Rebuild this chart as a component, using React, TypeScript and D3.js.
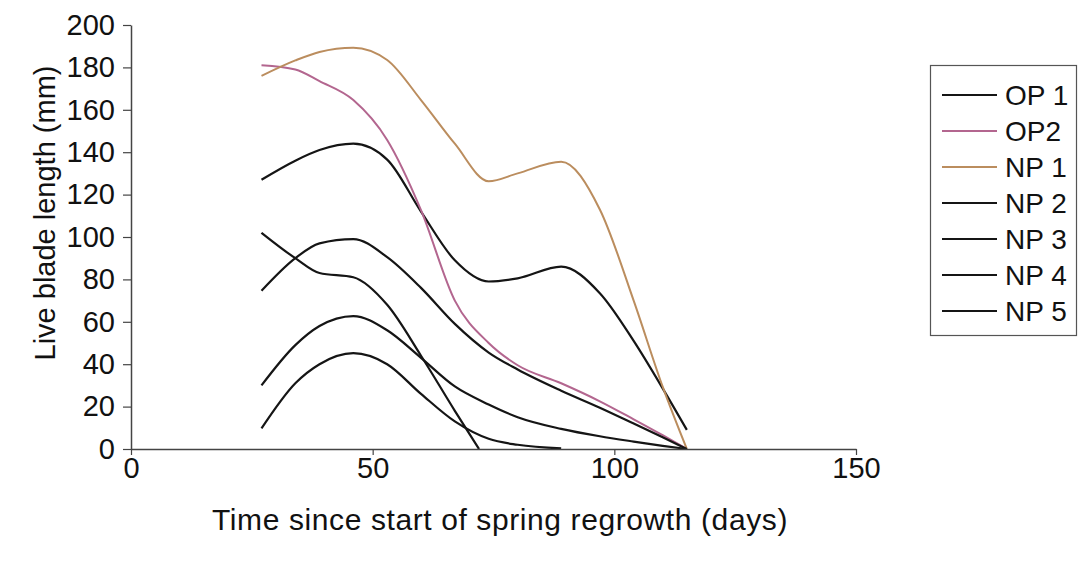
import { useEffect, useRef } from "react"
import * as d3 from "d3"

// series, in legend order
const seriesNames = ["OP 1", "OP2", "NP 1", "NP 2", "NP 3", "NP 4", "NP 5"]
const seriesColors = ["#151515", "#b3668f", "#bb8d5e", "#151515", "#151515", "#151515", "#151515"]

// sampling days
const days = [27, 34, 39, 46, 53, 60, 67, 74, 80, 89, 97, 104, 110, 115]
const steepDays = [27, 34, 39, 46, 53, 60, 67, 72]
const lowDays = [27, 34, 39, 46, 53, 60, 67, 74, 80, 89]

const op1 = [127, 136, 141, 144, 136.5, 112, 89, 79, 80.5, 86, 73.5, 51, 28.6, 9]
const op2 = [181, 179, 173.5, 164.6, 145.8, 112.7, 70, 50, 39.5, 31, 22.5, 14, 6.5, 0]
const np1 = [176, 183.3, 187.3, 189.3, 183.5, 164.6, 144, 126.3, 130, 135.5, 113, 70, 29.4, 0]
const np2 = [74.6, 90, 97, 99, 90.5, 76, 59, 45.5, 37.5, 27.5, 19.5, 12, 5.5, 0]
const np3 = [102, 90, 83, 81, 68, 44, 18, 0]
const np4 = [30, 49, 58, 62.7, 56, 43, 29.5, 21, 15, 9.5, 6, 3.5, 1.5, 0]
const np5 = [9.7, 31, 40, 45.2, 40, 26, 13, 4.8, 2, 0.3]

const seriesDays = [days, days, days, days, steepDays, days, lowDays]
const seriesValues = [op1, op2, np1, np2, np3, np4, np5]

const xTicks = [0, 50, 100, 150]
const yTicks = [0, 20, 40, 60, 80, 100, 120, 140, 160, 180, 200]

const W = 1081
const H = 565
const FONT = "'Liberation Sans', Arial, Helvetica, sans-serif"
const FS = 29

export default function App() {
  const xAxisRef = useRef<SVGGElement>(null)
  const yAxisRef = useRef<SVGGElement>(null)

  const x = d3.scaleLinear().domain([0, 150]).range([131, 856])
  const y = d3.scaleLinear().domain([0, 200]).range([449, 25])

  const line = d3
    .line<[number, number]>()
    .x((d) => x(d[0]))
    .y((d) => y(d[1]))
    .curve(d3.curveMonotoneX)

  useEffect(() => {
    if (!xAxisRef.current || !yAxisRef.current) return

    const gx = d3.select(xAxisRef.current)
    gx.selectAll("*").remove()
    gx.call(
      d3
        .axisBottom(x)
        .tickValues(xTicks)
        .tickSizeInner(6)
        .tickSizeOuter(0)
        .tickPadding(2)
        .tickFormat((d) => String(d)),
    )
    gx.select(".domain").attr("stroke", "#444").attr("stroke-width", 1.5)
    gx.selectAll(".tick line").attr("stroke", "#444").attr("stroke-width", 1.2)
    gx.selectAll("text").attr("font-size", FS).attr("font-family", FONT).attr("fill", "#111")

    const gy = d3.select(yAxisRef.current)
    gy.selectAll("*").remove()
    gy.call(
      d3
        .axisLeft(y)
        .tickValues(yTicks)
        .tickSizeInner(8)
        .tickSizeOuter(0)
        .tickPadding(8)
        .tickFormat((d) => String(d)),
    )
    gy.select(".domain").attr("stroke", "#444").attr("stroke-width", 1.5)
    gy.selectAll(".tick line").attr("stroke", "#444").attr("stroke-width", 1.2)
    gy.selectAll("text").attr("font-size", FS).attr("font-family", FONT).attr("fill", "#111")
  }, [])

  const legendTop = 95
  const legendStep = 36

  return (
    <svg
      width={W}
      height={H}
      style={{ position: "absolute", left: 0, top: 0, background: "#fff" }}
      fontFamily={FONT}
    >
      <rect x={0} y={0} width={W} height={H} fill="#fff" />

      {seriesValues.map((vals, i) => {
        const pts = vals.map((v, j) => [seriesDays[i][j], v] as [number, number])
        const colored = seriesColors[i] !== "#151515"
        return (
          <path
            key={seriesNames[i]}
            d={line(pts) ?? ""}
            fill="none"
            stroke={seriesColors[i]}
            strokeWidth={colored ? 2 : 2.2}
          />
        )
      })}

      <g ref={xAxisRef} transform={`translate(0,${y(0)})`} />
      <g ref={yAxisRef} transform={`translate(${x(0)},0)`} />

      <text
        x={500}
        y={530}
        textAnchor="middle"
        fontSize={30}
        letterSpacing={0.6}
        fill="#111"
      >
        Time since start of spring regrowth (days)
      </text>
      <text
        transform={`translate(55,${(y(0) + y(200)) / 2 - 24}) rotate(-90)`}
        textAnchor="middle"
        fontSize={FS}
        fill="#111"
      >
        Live blade length (mm)
      </text>

      {/* legend */}
      <rect x={930.5} y={65.5} width={146} height={270} fill="#fff" stroke="#555" strokeWidth={1.2} />
      {seriesNames.map((name, i) => {
        const ly = legendTop + i * legendStep
        return (
          <g key={name}>
            <line x1={942} x2={997} y1={ly} y2={ly} stroke={seriesColors[i]} strokeWidth={2} />
            <text x={1005} y={ly} dy="0.36em" fontSize={FS - 1} fill="#111">
              {name}
            </text>
          </g>
        )
      })}
    </svg>
  )
}
